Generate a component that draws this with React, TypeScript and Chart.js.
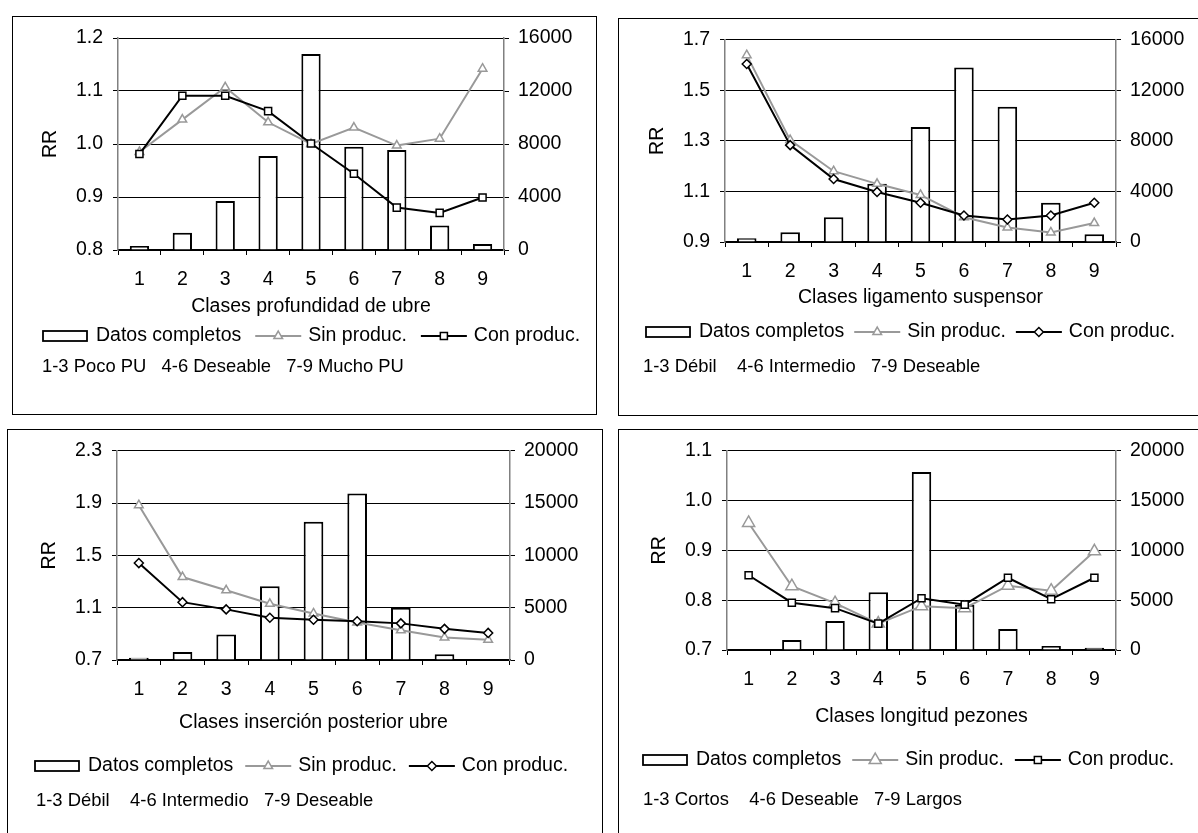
import React, { useEffect, useRef } from 'react';
import { Chart, registerables } from 'chart.js';

Chart.register(...registerables);

const FONT = "'Liberation Sans', Arial, sans-serif";
const GRAY = '#999999';

const classes = ['1', '2', '3', '4', '5', '6', '7', '8', '9'];
const legendLabels = ['Datos completos', 'Sin produc.', 'Con produc.'];

// Panel 1: profundidad de ubre
const profDatos = [300, 1300, 3700, 7100, 14800, 7800, 7550, 1850, 450];
const profSin = [0.985, 1.046, 1.107, 1.041, 1.0, 1.031, 0.997, 1.01, 1.142];
const profCon = [0.981, 1.091, 1.091, 1.062, 1.001, 0.944, 0.88, 0.87, 0.899];

// Panel 2: ligamento suspensor
const ligDatos = [300, 780, 1950, 4600, 9100, 13800, 10700, 3100, 620];
const ligSin = [1.639, 1.303, 1.18, 1.13, 1.086, 0.998, 0.957, 0.938, 0.975];
const ligCon = [1.604, 1.283, 1.149, 1.098, 1.055, 1.005, 0.989, 1.005, 1.055];

// Panel 3: inserción posterior ubre
const insDatos = [220, 760, 2430, 7050, 13200, 15900, 5000, 540, 0];
const insSin = [1.883, 1.334, 1.233, 1.13, 1.056, 0.986, 0.927, 0.872, 0.854];
const insCon = [1.441, 1.142, 1.087, 1.023, 1.008, 0.996, 0.98, 0.938, 0.907];

// Panel 4: longitud pezones
const pezDatos = [0, 1000, 2900, 5800, 17850, 4530, 2100, 400, 220];
const pezSin = [0.955, 0.828, 0.794, 0.753, 0.788, 0.784, 0.829, 0.819, 0.898];
const pezCon = [0.85, 0.795, 0.784, 0.753, 0.804, 0.791, 0.845, 0.802, 0.845];

const xTitles = [
  'Clases profundidad de ubre',
  'Clases ligamento suspensor',
  'Clases inserción posterior ubre',
  'Clases longitud pezones',
];
const notes = [
  '1-3 Poco PU   4-6 Deseable   7-9 Mucho PU',
  '1-3 Débil    4-6 Intermedio   7-9 Deseable',
  '1-3 Débil    4-6 Intermedio   7-9 Deseable',
  '1-3 Cortos    4-6 Deseable   7-9 Largos',
];
const leftRanges = [
  [0.8, 1.2, 0.1],
  [0.9, 1.7, 0.2],
  [0.7, 2.3, 0.4],
  [0.7, 1.1, 0.1],
];
const rightRanges = [
  [0, 16000, 4000],
  [0, 16000, 4000],
  [0, 20000, 5000],
  [0, 20000, 5000],
];

type Spec = {
  L: number; T: number; W: number; H: number; bw: number; bh: number;
  plotL: number; plotR: number; plotT: number; plotB: number;
  titleY: number; legendY: number; noteY: number; legendX: number; noteX: number;
  sinR: number; conStyle: string; conR: number; gap: number;
};

const specs: Spec[] = [
  { L: 12, T: 16, W: 584, H: 398, bw: 585, bh: 399, plotL: 118, plotR: 504, plotT: 38, plotB: 250,
    titleY: 307, legendY: 336, noteY: 367, legendX: 43, noteX: 42, sinR: 5, conStyle: 'rect', conR: 5, gap: 14 },
  { L: 618, T: 18, W: 580, H: 397, bw: 584, bh: 398, plotL: 725, plotR: 1116, plotT: 37, plotB: 242,
    titleY: 298, legendY: 332, noteY: 367, legendX: 646, noteX: 643, sinR: 5, conStyle: 'rectRot', conR: 4.5, gap: 10 },
  { L: 7, T: 429, W: 595, H: 404, bw: 596, bh: 420, plotL: 117, plotR: 510, plotT: 448, plotB: 660,
    titleY: 723, legendY: 766, noteY: 801, legendX: 35, noteX: 36, sinR: 5, conStyle: 'rectRot', conR: 4.5, gap: 12 },
  { L: 618, T: 429, W: 580, H: 404, bw: 584, bh: 420, plotL: 727, plotR: 1116, plotT: 449, plotB: 650,
    titleY: 717, legendY: 760, noteY: 800, legendX: 643, noteX: 643, sinR: 7, conStyle: 'rect', conR: 5, gap: 11 },
];

const datasetsData = [
  [profDatos, profSin, profCon],
  [ligDatos, ligSin, ligCon],
  [insDatos, insSin, insCon],
  [pezDatos, pezSin, pezCon],
];

function drawMarker(ctx: CanvasRenderingContext2D, style: string, x: number, y: number, r: number, color: string) {
  ctx.save();
  ctx.beginPath();
  if (style === 'triangle') {
    ctx.moveTo(x, y - r);
    ctx.lineTo(x + r * 0.866, y + r * 0.5);
    ctx.lineTo(x - r * 0.866, y + r * 0.5);
    ctx.closePath();
  } else if (style === 'rectRot') {
    ctx.moveTo(x, y - r);
    ctx.lineTo(x + r, y);
    ctx.lineTo(x, y + r);
    ctx.lineTo(x - r, y);
    ctx.closePath();
  } else {
    const s = r * Math.SQRT1_2;
    ctx.rect(x - s, y - s, 2 * s, 2 * s);
  }
  ctx.fillStyle = '#fff';
  ctx.fill();
  ctx.lineWidth = 1.5;
  ctx.strokeStyle = color;
  ctx.stroke();
  ctx.restore();
}

function Panel({ idx }: { idx: number }) {
  const ref = useRef<HTMLCanvasElement | null>(null);
  const s = specs[idx];
  useEffect(() => {
    if (!ref.current) return;
    const [datos, sin, con] = datasetsData[idx];
    const [lmin, lmax, lstep] = leftRanges[idx];
    const [rmin, rmax, rstep] = rightRanges[idx];
    const yLw = s.plotL - s.L;
    const yRw = s.L + s.W - s.plotR;
    const padTop = s.plotT - s.T;
    const hx = s.H - (s.plotB - s.T);
    const font = { family: FONT, size: 19.5 };

    const textPlugin = {
      id: 'panelText' + idx,
      afterDraw(chart: any) {
        const ctx: CanvasRenderingContext2D = chart.ctx;
        const a = chart.chartArea;
        ctx.save();
        ctx.fillStyle = '#000';
        ctx.font = `19.5px ${FONT}`;
        ctx.textBaseline = 'middle';
        ctx.textAlign = 'center';
        ctx.fillText(xTitles[idx], (a.left + a.right) / 2, s.titleY - s.T);
        ctx.save();
        ctx.translate(a.left - 67, (a.top + a.bottom) / 2);
        ctx.rotate(-Math.PI / 2);
        ctx.fillText('RR', 0, 0);
        ctx.restore();

        // legend
        ctx.textAlign = 'left';
        const ly = s.legendY - s.T;
        let x = s.legendX - s.L;
        ctx.fillStyle = '#fff';
        ctx.fillRect(x, ly - 5, 44, 10);
        ctx.lineWidth = 1.8;
        ctx.strokeStyle = '#000';
        ctx.strokeRect(x, ly - 5, 44, 10);
        x += 44 + 9;
        ctx.fillStyle = '#000';
        ctx.fillText(legendLabels[0], x, ly);
        x += ctx.measureText(legendLabels[0]).width + s.gap;
        // Sin produc.
        ctx.beginPath();
        ctx.moveTo(x, ly);
        ctx.lineTo(x + 46, ly);
        ctx.strokeStyle = GRAY;
        ctx.lineWidth = 2;
        ctx.stroke();
        drawMarker(ctx, 'triangle', x + 23, ly, s.sinR, GRAY);
        x += 46 + 7;
        ctx.fillStyle = '#000';
        ctx.fillText(legendLabels[1], x, ly);
        x += ctx.measureText(legendLabels[1]).width + s.gap;
        // Con produc.
        ctx.beginPath();
        ctx.moveTo(x, ly);
        ctx.lineTo(x + 46, ly);
        ctx.strokeStyle = '#000';
        ctx.lineWidth = 2;
        ctx.stroke();
        drawMarker(ctx, s.conStyle, x + 23, ly, s.conR, '#000');
        x += 46 + 7;
        ctx.fillStyle = '#000';
        ctx.fillText(legendLabels[2], x, ly);

        // note
        ctx.font = `18.4px ${FONT}`;
        ctx.fillText(notes[idx], s.noteX - s.L, s.noteY - s.T);
        ctx.restore();
      },
    };

    const chart = new Chart(ref.current, {
      type: 'bar',
      data: {
        labels: classes,
        datasets: [
          {
            type: 'line', label: legendLabels[1], data: sin, yAxisID: 'yL',
            borderColor: GRAY, borderWidth: 2, pointStyle: 'triangle', pointRadius: s.sinR,
            pointBorderColor: GRAY, pointBackgroundColor: '#fff', pointBorderWidth: 1.5,
            order: 1, tension: 0,
          } as any,
          {
            type: 'line', label: legendLabels[2], data: con, yAxisID: 'yL',
            borderColor: '#000', borderWidth: 2, pointStyle: s.conStyle, pointRadius: s.conR,
            pointBorderColor: '#000', pointBackgroundColor: '#fff', pointBorderWidth: 1.5,
            order: 0, tension: 0,
          } as any,
          {
            type: 'bar', label: legendLabels[0], data: datos, yAxisID: 'yR',
            backgroundColor: '#fff', borderColor: '#000', borderWidth: 2,
            barPercentage: 0.45, categoryPercentage: 1, order: 2,
          } as any,
        ],
      },
      options: {
        responsive: false,
        animation: false,
        layout: { padding: { left: 0, right: 0, top: padTop, bottom: 0 } },
        plugins: { legend: { display: false }, tooltip: { enabled: false } },
        scales: {
          x: {
            offset: true,
            grid: { display: true, drawOnChartArea: false, drawTicks: true, tickLength: 5, color: '#000', offset: true },
            border: { display: true, color: '#000', width: 1.5 },
            ticks: { font, color: '#000', padding: 13, maxRotation: 0 },
            afterFit: (sc: any) => { sc.height = hx; },
          },
          yL: {
            position: 'left', min: lmin, max: lmax,
            ticks: { stepSize: lstep, font, color: '#000', padding: 10, callback: (v: any) => Number(v).toFixed(1) },
            grid: { color: '#000', lineWidth: 1, tickLength: 5 },
            border: { color: '#808080', width: 1.5 },
            afterFit: (sc: any) => { sc.width = yLw; },
          },
          yR: {
            position: 'right', min: rmin, max: rmax,
            ticks: { stepSize: rstep, font, color: '#000', padding: 9, callback: (v: any) => String(v) },
            grid: { drawOnChartArea: false, color: '#000', tickLength: 5 },
            border: { color: '#808080', width: 1.5 },
            afterFit: (sc: any) => { sc.width = yRw; },
          },
        },
      } as any,
      plugins: [textPlugin],
    });
    return () => chart.destroy();
  }, [idx]);

  return (
    <div style={{ position: 'absolute', left: s.L, top: s.T, width: s.W, height: s.H }}>
      <canvas ref={ref} width={s.W} height={s.H} style={{ position: 'absolute', left: 0, top: 0, width: s.W, height: s.H }} />
      <div
        style={{
          position: 'absolute', left: 0, top: 0, width: s.bw, height: s.bh,
          border: '1.5px solid #000', boxSizing: 'border-box', pointerEvents: 'none',
        }}
      />
    </div>
  );
}

export default function App() {
  return (
    <div style={{ position: 'fixed', left: 0, top: 0, width: 1198, height: 833, overflow: 'hidden', background: '#fff' }}>
      {specs.map((_, i) => (
        <Panel key={i} idx={i} />
      ))}
    </div>
  );
}
